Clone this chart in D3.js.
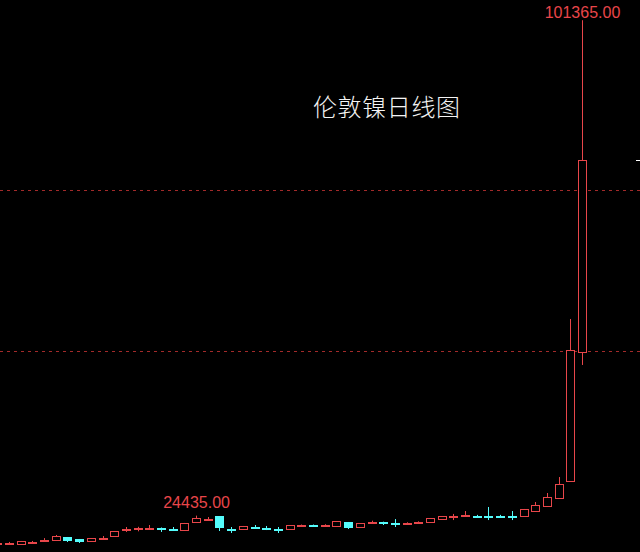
<!DOCTYPE html>
<html><head><meta charset="utf-8">
<script src="https://cdn.jsdelivr.net/npm/d3@7/dist/d3.min.js"></script>
<style>html,body{margin:0;padding:0;background:#000;}svg{display:block;}</style>
</head><body>
<script>
const title = "伦敦镍日线图";
const categories = d3.range(1, 52).map(String);
const opens  = [20030,20150,20030,20300,20600,20650,21120,20810,20500,20900,21270,22300,22450,22450,22520,22400,22200,23450,23880,24380,22400,22360,22700,22550,22400,22360,22870,23000,22950,22830,23450,22670,23400,23480,23330,23180,23400,23450,23910,24350,24380,24450,24450,24420,24450,24380,25150,25930,27170,29810,49850];
const highs  = [20250,20350,20500,20500,20950,21430,21120,20810,20960,21270,22050,22670,22700,22980,22600,22670,23300,24435,24220,24380,22670,22830,22980,22830,22670,22980,23050,23050,23100,23600,23450,23290,23650,23500,23900,23400,23550,24070,24380,24700,25150,24550,25780,24550,25150,25470,26550,27950,30430,54970,101365];
const lows   = [19980,20050,20030,20200,20500,20650,20340,20190,20500,20650,21270,21900,22000,22300,21900,22300,22200,23450,23800,22050,21740,22360,22360,22200,21740,22360,22800,22900,22900,22830,22360,22670,23300,22980,22670,23000,23350,23450,23910,23750,24300,24300,23750,24200,23750,24380,25000,25930,27170,29810,47830];
const closes = [20180,20220,20500,20380,20680,21270,20650,20500,20960,20980,22050,22380,22530,22520,22440,22330,23300,24070,23950,22670,22330,22830,22630,22480,22330,22980,22950,22920,23030,23600,22670,23290,23480,23400,23250,23260,23480,24070,24380,24430,24460,24370,24370,24340,24370,25470,26090,27330,29350,50150,79660];
const gridLevels = [50000, 75000];

const W = 640, H = 552;
const RED = "#e8464a", CYAN = "#54fcfc", GRID = "#a32a2a";
const svg = d3.select("body").append("svg").attr("width", W).attr("height", H)
  .style("background", "#000");

const x = d3.scalePoint().domain(categories).range([-2.7, 582]);
const y = d3.scaleLinear().domain([50000, 75000]).range([351, 190]);

const data = categories.map((c, i) => ({c, o: opens[i], h: highs[i], l: lows[i], cl: closes[i]}));

// grid lines
svg.selectAll("line.grid").data(gridLevels).enter().append("line")
  .attr("x1", 0).attr("x2", W)
  .attr("y1", d => Math.round(y(d)) + 0.5).attr("y2", d => Math.round(y(d)) + 0.5)
  .attr("stroke", GRID).attr("stroke-width", 1).attr("stroke-dasharray", "3,4");

const bw = 8;
const g = svg.append("g");
const cx = d => Math.round(x(d.c)) + 0.5;
const col = d => d.cl >= d.o ? RED : CYAN;

// wicks
g.selectAll("line.wick").data(data).enter().append("line")
  .attr("x1", cx).attr("x2", cx)
  .attr("y1", d => y(d.h)).attr("y2", d => y(d.l))
  .attr("stroke", col).attr("stroke-width", 1);

// bodies
g.selectAll("rect.body").data(data).enter().append("rect")
  .attr("x", d => cx(d) - bw / 2)
  .attr("y", d => Math.round(y(Math.max(d.o, d.cl))) + 0.5)
  .attr("width", bw)
  .attr("height", d => Math.max(1, Math.round(y(Math.min(d.o, d.cl))) - Math.round(y(Math.max(d.o, d.cl)))))
  .attr("fill", d => d.cl >= d.o ? "#000" : CYAN)
  .attr("stroke", col).attr("stroke-width", 1);

// max / min labels
const iMax = d3.maxIndex(highs);
const iLbl = 17;
[iMax, iLbl].forEach(i => {
  const d = data[i];
  svg.append("text")
    .attr("x", x(d.c) + 0.5)
    .attr("y", Math.max(18, y(d.h) - 8))
    .attr("text-anchor", "middle")
    .attr("font-family", "Liberation Sans, Arial, sans-serif")
    .attr("font-size", 16)
    .attr("fill", RED)
    .text(d3.format(".2f")(d.h));
});

// right-edge price marker
const last = data[data.length - 1];
svg.append("line").attr("x1", 636).attr("x2", 640)
  .attr("y1", Math.round(y(last.cl)) + 0.5).attr("y2", Math.round(y(last.cl)) + 0.5)
  .attr("stroke", "#fff").attr("stroke-width", 1);

// title
svg.append("text").attr("x", 313).attr("y", 116)
  .attr("font-family", "Noto Sans CJK SC, sans-serif")
  .attr("font-size", 24).attr("font-weight", 300).attr("letter-spacing", 0.6)
  .attr("fill", "#f4f4f4")
  .text(title);
</script>
</body></html>
